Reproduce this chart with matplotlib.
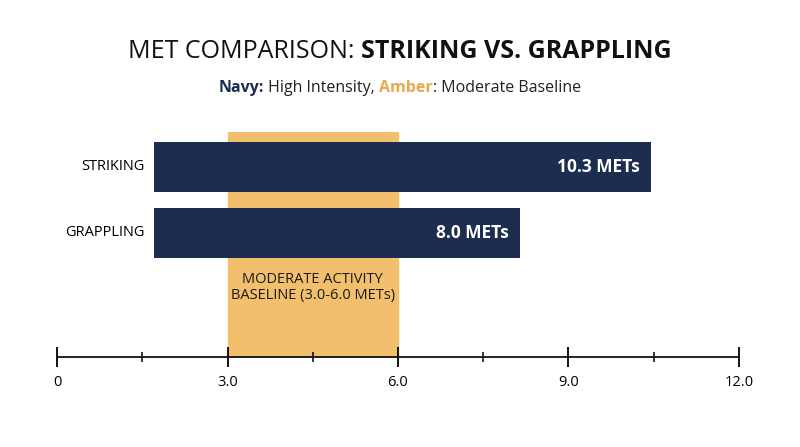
import matplotlib
matplotlib.use("Agg")
import matplotlib.pyplot as plt
from matplotlib.offsetbox import TextArea, HPacker, AnchoredOffsetbox

categories = ["STRIKING", "GRAPPLING"]
mets = [10.3, 8.0]
bar_start = [1.7, 1.7]
bar_end = [10.45, 8.15]
baseline = [3.0, 6.0]
ticks = [0, 3, 6, 9, 12]
tick_labels = ["0", "3.0", "6.0", "9.0", "12.0"]
minor = [1.5, 4.5, 7.5, 10.5]

navy = "#1d2d50"
amber = "#f2c06d"
plt.rcParams['font.family'] = ['Open Sans', 'DejaVu Sans']

fig = plt.figure(figsize=(8, 4.47), dpi=100)
ax = fig.add_axes([57/800, 90/447, 682/800, 225/447])
ax.set_xlim(0, 12)
ax.set_ylim(2.88, -0.53)
ax.axvspan(baseline[0], baseline[1], color=amber, zorder=1)
ys = list(range(len(categories)))
ax.barh(ys, [e - s for s, e in zip(bar_start, bar_end)], left=bar_start,
        height=0.76, color=navy, zorder=2)
for y, c, v, e in zip(ys, categories, mets, bar_end):
    ax.text(e - 0.2, y, f"{v:.1f} METs", color="white", fontsize=12.5,
            fontweight="bold", ha="right", va="center", zorder=3)
    ax.text(1.55, y, c, color="black", fontsize=10.5, ha="right", va="center")
ax.text(4.5, 1.82, "MODERATE ACTIVITY\nBASELINE (3.0-6.0 METs)", ha="center",
        va="center", fontsize=10.5, color="#1a1a1a", linespacing=1.1, zorder=3)

for s in ["top", "right", "left"]:
    ax.spines[s].set_visible(False)
ax.spines["bottom"].set_color("#111111")
ax.spines["bottom"].set_linewidth(1.3)
ax.set_yticks([])
ax.set_xticks(ticks)
ax.set_xticklabels(tick_labels, fontsize=10.5)
ax.set_xticks(minor, minor=True)
ax.tick_params(axis="x", which="major", direction="inout", length=14, width=1.3, pad=6)
ax.tick_params(axis="x", which="minor", direction="inout", length=7, width=1.1)

def packed(parts, y, size):
    boxes = [TextArea(t, textprops=dict(color=c, fontweight=w, fontsize=size)) for t, c, w in parts]
    pack = HPacker(children=boxes, align="baseline", pad=0, sep=0)
    ab = AnchoredOffsetbox(loc="center", child=pack, frameon=False,
                           bbox_to_anchor=(0.5, y), bbox_transform=fig.transFigure)
    fig.add_artist(ab)

packed([("MET COMPARISON: ", "#111111", "normal"),
        ("STRIKING VS. GRAPPLING", "#111111", "bold")], 1 - 52/447, 18)
packed([("Navy:", navy, "bold"), (" High Intensity, ", "#222222", "normal"),
        ("Amber", "#e8a94a", "bold"), (": Moderate Baseline", "#222222", "normal")],
       1 - 88/447, 11.5)

fig.savefig("out.png", dpi=100, facecolor="white")
